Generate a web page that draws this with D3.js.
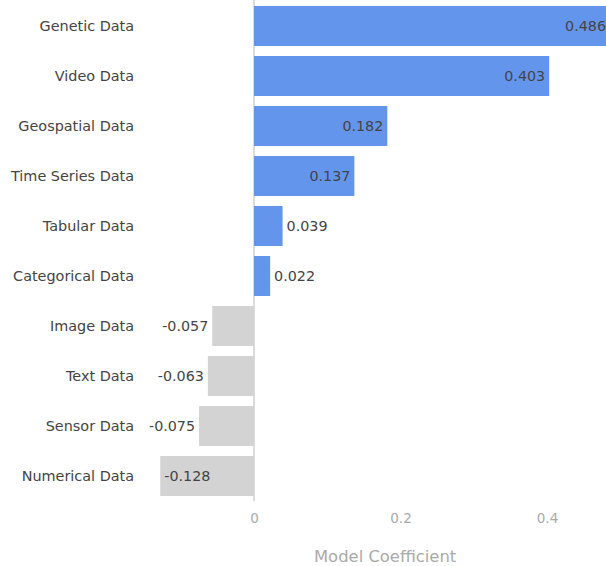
<!DOCTYPE html>
<html><head><meta charset="utf-8">
<script src="https://cdn.jsdelivr.net/npm/d3@7"></script>
<style>body{margin:0;background:#fff;}svg{display:block;font-family:"DejaVu Sans",Verdana,sans-serif;}</style>
</head><body>
<script>
const categories = ["Genetic Data","Video Data","Geospatial Data","Time Series Data","Tabular Data","Categorical Data","Image Data","Text Data","Sensor Data","Numerical Data"];
const values = [0.486,0.403,0.182,0.137,0.039,0.022,-0.057,-0.063,-0.075,-0.128];
const tickValues = [0,0.2,0.4];
const axisTitle = "Model Coefficient";

const W=606,H=566;
const svg=d3.select("body").append("svg").attr("width",W).attr("height",H);
const x=d3.scaleLinear().domain([0,0.4]).range([254,547]);
const y=d3.scaleBand().domain(categories).range([1,501]).paddingInner(0.2).paddingOuter(0.1);

const plotLeft=x(-0.128);

// zero line
svg.append("line").attr("x1",x(0)).attr("x2",x(0)).attr("y1",0).attr("y2",501).attr("stroke","#d0d0d0").attr("stroke-width",1.5);

const g=svg.append("g");
const data=categories.map((c,i)=>({c,v:values[i]}));
g.selectAll("rect").data(data).enter().append("rect")
 .attr("x",d=>Math.min(x(0),x(d.v)))
 .attr("y",d=>y(d.c))
 .attr("width",d=>Math.abs(x(d.v)-x(0)))
 .attr("height",y.bandwidth())
 .attr("fill",d=>d.v>=0?"#6495ED":"#D3D3D3");

const fmt=v=>v.toFixed(3);
g.selectAll("text.val").data(data).enter().append("text").attr("class","val")
 .attr("y",d=>y(d.c)+y.bandwidth()/2)
 .attr("dy","0.35em")
 .attr("font-size",14.3).attr("fill","#444")
 .each(function(d){
   const t=d3.select(this).text(fmt(d.v));
   const tw=this.getComputedTextLength();
   const bw=Math.abs(x(d.v)-x(0));
   const inside=bw>tw+16;
   if(d.v>=0){
     if(inside) t.attr("x",x(d.v)-4).attr("text-anchor","end");
     else t.attr("x",x(d.v)+4).attr("text-anchor","start");
   } else {
     if(inside) t.attr("x",x(d.v)+4).attr("text-anchor","start");
     else t.attr("x",x(d.v)-4).attr("text-anchor","end");
   }
 });

// category labels
svg.selectAll("text.cat").data(categories).enter().append("text").attr("class","cat")
 .attr("x",134).attr("y",d=>y(d)+y.bandwidth()/2).attr("dy","0.35em")
 .attr("text-anchor","end").attr("font-size",14.4).attr("fill","#444").text(d=>d);

// x axis tick labels
const ax=svg.append("g").attr("transform","translate(0,501)")
 .call(d3.axisBottom(x).tickValues(tickValues).tickFormat(d=>d===0?"0":d3.format(".1f")(d)).tickSize(0).tickPadding(12));
ax.select(".domain").remove();
ax.selectAll("text").attr("font-size",13.5).attr("fill","#aaa").attr("font-family","DejaVu Sans, Verdana, sans-serif");

svg.append("text").attr("x",(plotLeft+610)/2).attr("y",562).attr("text-anchor","middle")
 .attr("font-size",16.4).attr("fill","#aaa").text(axisTitle);
</script>
</body></html>
